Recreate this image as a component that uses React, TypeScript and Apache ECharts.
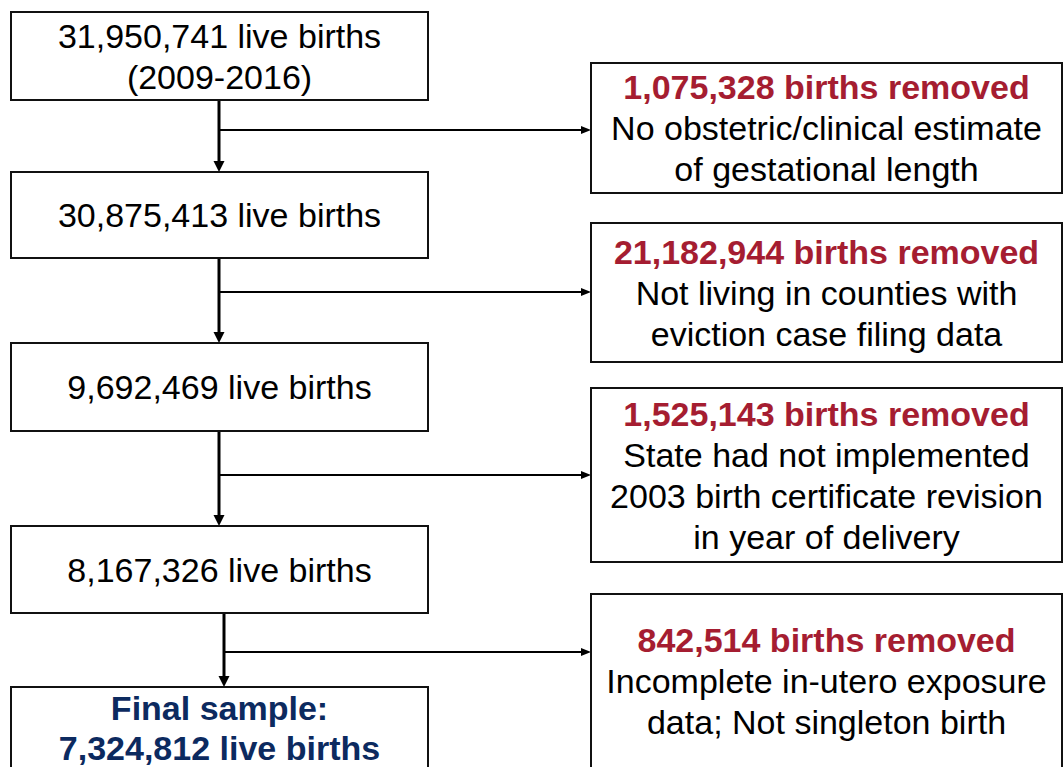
import React, { useEffect, useRef } from "react";
import * as echarts from "echarts";

// ---- data ----
const liveBirths = [31950741, 30875413, 9692469, 8167326, 7324812];
const firstBoxNote = "(2009-2016)";
const finalLabel = "Final sample:";
const removedBirths = [1075328, 21182944, 1525143, 842514];
const removalReasons = [
  ["No obstetric/clinical estimate", "of gestational length"],
  ["Not living in counties with", "eviction case filing data"],
  ["State had not implemented", "2003 birth certificate revision", "in year of delivery"],
  ["Incomplete in-utero exposure", "data; Not singleton birth"],
];

// ---- layout ----
const LEFT_X = 11;
const LEFT_W = 417;
const leftBoxY = [12, 172, 343, 526, 687];
const leftBoxH = [88, 86, 88, 87, 110];
const RIGHT_X = 591;
const RIGHT_W = 471;
const rightBoxY = [63, 223, 388, 594];
const rightBoxH = [130, 139, 174, 200];
const branchY = [130, 292, 475, 652];
const stemX = [219, 219, 219, 224];
const LINE_H = 41;

const FONT = '"Liberation Sans", Arial, Helvetica, sans-serif';
const RED = "#a51d31";
const NAVY = "#0c2a5f";

const fmt = (n: number) => n.toLocaleString("en-US");

function txt(text: string, x: number, y: number, bold: boolean, fill: string) {
  return {
    type: "text",
    x,
    y,
    silent: true,
    z: 10,
    style: {
      text,
      font: `${bold ? "bold " : ""}34px ${FONT}`,
      fill,
      align: "center",
      verticalAlign: "middle",
      textAlign: "center",
      textVerticalAlign: "middle",
    },
  };
}

function buildElements() {
  const els: any[] = [];
  // branch lines and stems
  for (let i = 0; i < 4; i++) {
    const sx = stemX[i];
    const top = leftBoxY[i] + leftBoxH[i];
    const nextTop = leftBoxY[i + 1];
    els.push({
      type: "line",
      z: 1,
      shape: { x1: sx, y1: top, x2: sx, y2: nextTop - 9 },
      style: { stroke: "#000", lineWidth: 3 },
    });
    els.push({
      type: "polygon",
      z: 1,
      shape: { points: [[sx - 5.5, nextTop - 11], [sx + 5.5, nextTop - 11], [sx, nextTop]] },
      style: { fill: "#000" },
    });
    els.push({
      type: "line",
      z: 1,
      shape: { x1: sx, y1: branchY[i], x2: RIGHT_X - 8, y2: branchY[i] },
      style: { stroke: "#000", lineWidth: 2 },
    });
    els.push({
      type: "polygon",
      z: 1,
      shape: { points: [[RIGHT_X - 10, branchY[i] - 4], [RIGHT_X - 10, branchY[i] + 4], [RIGHT_X, branchY[i]]] },
      style: { fill: "#000" },
    });
  }
  // left boxes
  for (let i = 0; i < liveBirths.length; i++) {
    els.push({
      type: "rect",
      z: 2,
      shape: { x: LEFT_X, y: leftBoxY[i], width: LEFT_W, height: leftBoxH[i] },
      style: { fill: "#fff", stroke: "#111", lineWidth: 2 },
    });
  }
  const cx = LEFT_X + LEFT_W / 2;
  els.push(txt(`${fmt(liveBirths[0])} live births`, cx, 36, false, "#000"));
  els.push(txt(firstBoxNote, cx, 77, false, "#000"));
  for (let i = 1; i < 4; i++) {
    els.push(txt(`${fmt(liveBirths[i])} live births`, cx, leftBoxY[i] + leftBoxH[i] / 2, false, "#000"));
  }
  els.push(txt(finalLabel, cx, 708, true, NAVY));
  els.push(txt(`${fmt(liveBirths[4])} live births`, cx, 748, true, NAVY));

  // right boxes
  const rcx = RIGHT_X + RIGHT_W / 2;
  const rightCenters = [128, 292.5, 475, 681];
  for (let i = 0; i < removedBirths.length; i++) {
    els.push({
      type: "rect",
      z: 2,
      shape: { x: RIGHT_X, y: rightBoxY[i], width: RIGHT_W, height: rightBoxH[i] },
      style: { fill: "#fff", stroke: "#111", lineWidth: 2 },
    });
    const lines = [`${fmt(removedBirths[i])} births removed`, ...removalReasons[i]];
    const n = lines.length;
    lines.forEach((l, k) => {
      const y = rightCenters[i] + (k - (n - 1) / 2) * LINE_H;
      els.push(txt(l, rcx, y, k === 0, k === 0 ? RED : "#000"));
    });
  }
  return els;
}

export default function App() {
  const ref = useRef<HTMLDivElement>(null);
  useEffect(() => {
    document.body.style.margin = "0";
    const chart = echarts.init(ref.current!, undefined, { renderer: "svg" });
    chart.setOption({
      animation: false,
      backgroundColor: "#fff",
      graphic: { elements: buildElements() },
    });
    return () => chart.dispose();
  }, []);
  return <div ref={ref} style={{ position: "absolute", left: 0, top: 0, width: 1064, height: 767 }} />;
}
